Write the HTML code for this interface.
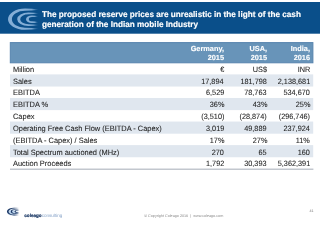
<!DOCTYPE html>
<html><head><meta charset="utf-8">
<style>
html,body{text-rendering:geometricPrecision;margin:0;padding:0;background:#fff;width:320px;height:226px;overflow:hidden;position:relative;font-family:"Liberation Sans",sans-serif;}
#w{position:absolute;left:0;top:0;width:320px;height:226px;will-change:transform;}
.hdr{position:absolute;left:0;top:2px;width:320px;height:31.5px;}
.logo{position:absolute;left:0;top:0;}
.title{position:absolute;left:42px;top:7.75px;color:#fff;-webkit-text-stroke:0.15px #fff;font-weight:bold;font-size:8.2px;line-height:10.3px;white-space:nowrap;}
.th{position:absolute;left:10px;top:42px;width:303px;height:21px;}
.hc{position:absolute;color:#fff;-webkit-text-stroke:0.12px #fff;font-weight:bold;font-size:7.35px;line-height:8.6px;text-align:right;white-space:nowrap;}
.band{position:absolute;left:10px;width:303px;background:#e0e7ef;}
.row{position:absolute;left:10px;width:303px;height:11.7px;}
.t{position:absolute;font-size:7.3px;line-height:11.7px;color:#1e1e1e;-webkit-text-stroke:0.08px #1e1e1e;white-space:nowrap;top:0;}
.l{left:3.1px;font-size:7.7px;transform:scaleX(0.9675);transform-origin:0 50%;}
.c1{right:89px;text-align:right;font-size:7.7px;transform:scaleX(0.948);transform-origin:100% 50%;}
.c2{right:46px;text-align:right;font-size:7.7px;transform:scaleX(0.948);transform-origin:100% 50%;}
.c3{right:3px;text-align:right;font-size:7.7px;transform:scaleX(0.948);transform-origin:100% 50%;}
.ft{position:absolute;font-size:4.6px;line-height:5px;white-space:nowrap;}
.cp{position:absolute;font-size:3.73px;line-height:4px;color:#8a8a8a;white-space:nowrap;}
.pn{position:absolute;font-size:3.7px;line-height:4px;color:#777;white-space:nowrap;}
.bl{position:absolute;left:10px;top:169px;width:303px;height:1px;background:#aab0b8;}
</style></head><body><div id="w">
<svg width="320" height="226" style="position:absolute;left:0;top:0;"><rect x="10" y="74.40" width="303.2" height="12.15" fill="#e0e7ef"/><rect x="10" y="97.97" width="303.2" height="12.15" fill="#e0e7ef"/><rect x="10" y="121.54" width="303.2" height="12.15" fill="#e0e7ef"/><rect x="10" y="145.11" width="303.2" height="12.15" fill="#e0e7ef"/><rect x="10.3" y="42.6" width="302.6" height="20.2" fill="#6894b9" stroke="#5784ae" stroke-width="1" /><rect x="0" y="2" width="320" height="31.7" fill="#0a4f8a"/><rect x="10" y="168.6" width="303.4" height="1.2" fill="#b4bac2"/></svg>
<div class="hdr">
<svg class="logo" width="42" height="32" viewBox="0 0 42 32">
<defs><linearGradient id="h0" gradientUnits="userSpaceOnUse" x1="25" y1="0" x2="39.5" y2="0"><stop offset="0" stop-color="#84aed6"/><stop offset="0.45" stop-color="#84aed6" stop-opacity="0.9"/><stop offset="1" stop-color="#84aed6" stop-opacity="0"/></linearGradient><linearGradient id="h1" gradientUnits="userSpaceOnUse" x1="28" y1="0" x2="39.5" y2="0"><stop offset="0" stop-color="#84aed6"/><stop offset="0.45" stop-color="#84aed6" stop-opacity="0.9"/><stop offset="1" stop-color="#84aed6" stop-opacity="0"/></linearGradient><linearGradient id="h2" gradientUnits="userSpaceOnUse" x1="31" y1="0" x2="38.5" y2="0"><stop offset="0" stop-color="#84aed6"/><stop offset="0.45" stop-color="#84aed6" stop-opacity="0.9"/><stop offset="1" stop-color="#84aed6" stop-opacity="0"/></linearGradient></defs>
<path fill="url(#h0)" d="M39 7.65Q32.7 6.6 25 6.6A17 10.6 0 0 0 25 27.8Q32.7 27.8 39 26.75Q32.7 25.7 25 25.7A13.1 8.5 0 0 1 25 8.7Q32.7 8.7 39 7.65Z"/>
<path fill="url(#h1)" d="M39 11.35Q34.27 10.5 28.5 10.5A11.3 6.7 0 0 0 28.5 23.9Q34.27 23.9 39 23.05Q34.27 22.2 28.5 22.2A8.3 5 0 0 1 28.5 12.2Q34.27 12.2 39 11.35Z"/>
<path fill="url(#h2)" d="M38.5 14.25Q35.58 13.4 32 13.4A6 3.8 0 0 0 32 21Q35.58 21 38.5 20.15Q35.58 19.3 32 19.3A3.2 2.1 0 0 1 32 15.1Q35.58 15.1 38.5 14.25Z"/>

</svg>
<div class="title">The proposed reserve prices are unrealistic in the light of the cash<br>generation of the Indian mobile Industry</div>
</div>
<div class="th">
<div class="hc" style="right:89px;top:3.2px;">Germany,<br>2015</div>
<div class="hc" style="right:46px;top:3.2px;">USA,<br>2015</div>
<div class="hc" style="right:3px;top:3.2px;">India,<br>2016</div>
</div>
<div class="row" style="top:63.70px;"><div class="t l">Million</div><div class="t c1">€</div><div class="t c2">US$</div><div class="t c3">INR</div></div>
<div class="row" style="top:75.54px;"><div class="t l">Sales</div><div class="t c1">17,894</div><div class="t c2">181,798</div><div class="t c3">2,138,681</div></div>
<div class="row" style="top:87.38px;"><div class="t l">EBITDA</div><div class="t c1">6,529</div><div class="t c2">78,763</div><div class="t c3">534,670</div></div>
<div class="row" style="top:99.22px;"><div class="t l">EBITDA %</div><div class="t c1">36%</div><div class="t c2">43%</div><div class="t c3">25%</div></div>
<div class="row" style="top:111.06px;"><div class="t l">Capex</div><div class="t c1">(3,510)</div><div class="t c2">(28,874)</div><div class="t c3">(296,746)</div></div>
<div class="row" style="top:122.90px;"><div class="t l">Operating Free Cash Flow (EBITDA - Capex)</div><div class="t c1">3,019</div><div class="t c2">49,889</div><div class="t c3">237,924</div></div>
<div class="row" style="top:134.74px;"><div class="t l">(EBITDA - Capex) / Sales</div><div class="t c1">17%</div><div class="t c2">27%</div><div class="t c3">11%</div></div>
<div class="row" style="top:146.58px;"><div class="t l">Total Spectrum auctioned (MHz)</div><div class="t c1">270</div><div class="t c2">65</div><div class="t c3">160</div></div>
<div class="row" style="top:158.42px;"><div class="t l">Auction Proceeds</div><div class="t c1">1,792</div><div class="t c2">30,393</div><div class="t c3">5,362,391</div></div>

<svg class="flogo" width="320" height="226" viewBox="0 0 320 226" style="position:absolute;left:0;top:0;">
<defs><radialGradient id="flg" cx="0.35" cy="0.5" r="0.6"><stop offset="0" stop-color="#9ec0e2"/><stop offset="1" stop-color="#9ec0e2" stop-opacity="0"/></radialGradient></defs><ellipse cx="13.5" cy="212.3" rx="6.5" ry="3.8" fill="url(#flg)"/>
<g transform="translate(3.54,205.37) scale(0.42,0.36)"><defs><linearGradient id="f0" gradientUnits="userSpaceOnUse" x1="25" y1="0" x2="39.5" y2="0"><stop offset="0" stop-color="#1c3866"/><stop offset="0.45" stop-color="#1c3866" stop-opacity="0.9"/><stop offset="1" stop-color="#1c3866" stop-opacity="0"/></linearGradient><linearGradient id="f1" gradientUnits="userSpaceOnUse" x1="28" y1="0" x2="39.5" y2="0"><stop offset="0" stop-color="#1c3866"/><stop offset="0.45" stop-color="#1c3866" stop-opacity="0.9"/><stop offset="1" stop-color="#1c3866" stop-opacity="0"/></linearGradient><linearGradient id="f2" gradientUnits="userSpaceOnUse" x1="31" y1="0" x2="38.5" y2="0"><stop offset="0" stop-color="#1c3866"/><stop offset="0.45" stop-color="#1c3866" stop-opacity="0.9"/><stop offset="1" stop-color="#1c3866" stop-opacity="0"/></linearGradient></defs>
<path fill="url(#f0)" d="M39 7.65Q32.7 6.6 25 6.6A17 10.6 0 0 0 25 27.8Q32.7 27.8 39 26.75Q32.7 25.7 25 25.7A13.1 8.5 0 0 1 25 8.7Q32.7 8.7 39 7.65Z"/>
<path fill="url(#f1)" d="M39 11.35Q34.27 10.5 28.5 10.5A11.3 6.7 0 0 0 28.5 23.9Q34.27 23.9 39 23.05Q34.27 22.2 28.5 22.2A8.3 5 0 0 1 28.5 12.2Q34.27 12.2 39 11.35Z"/>
<path fill="url(#f2)" d="M38.5 14.25Q35.58 13.4 32 13.4A6 3.8 0 0 0 32 21Q35.58 21 38.5 20.15Q35.58 19.3 32 19.3A3.2 2.1 0 0 1 32 15.1Q35.58 15.1 38.5 14.25Z"/>
</g>
</svg>
<div class="ft" style="left:24.3px;top:212.8px;"><span style="font-weight:bold;color:#1d3a66;-webkit-text-stroke:0.2px #1d3a66">coleago</span><span style="color:#86a3c8">consulting</span></div>
<div class="cp" style="left:144.3px;top:214.3px;">© Copyright Coleago 2016&nbsp;&nbsp;|&nbsp;&nbsp;www.coleago.com</div>
<div class="pn" style="left:309.4px;top:209.4px;">41</div>
</div></body></html>
